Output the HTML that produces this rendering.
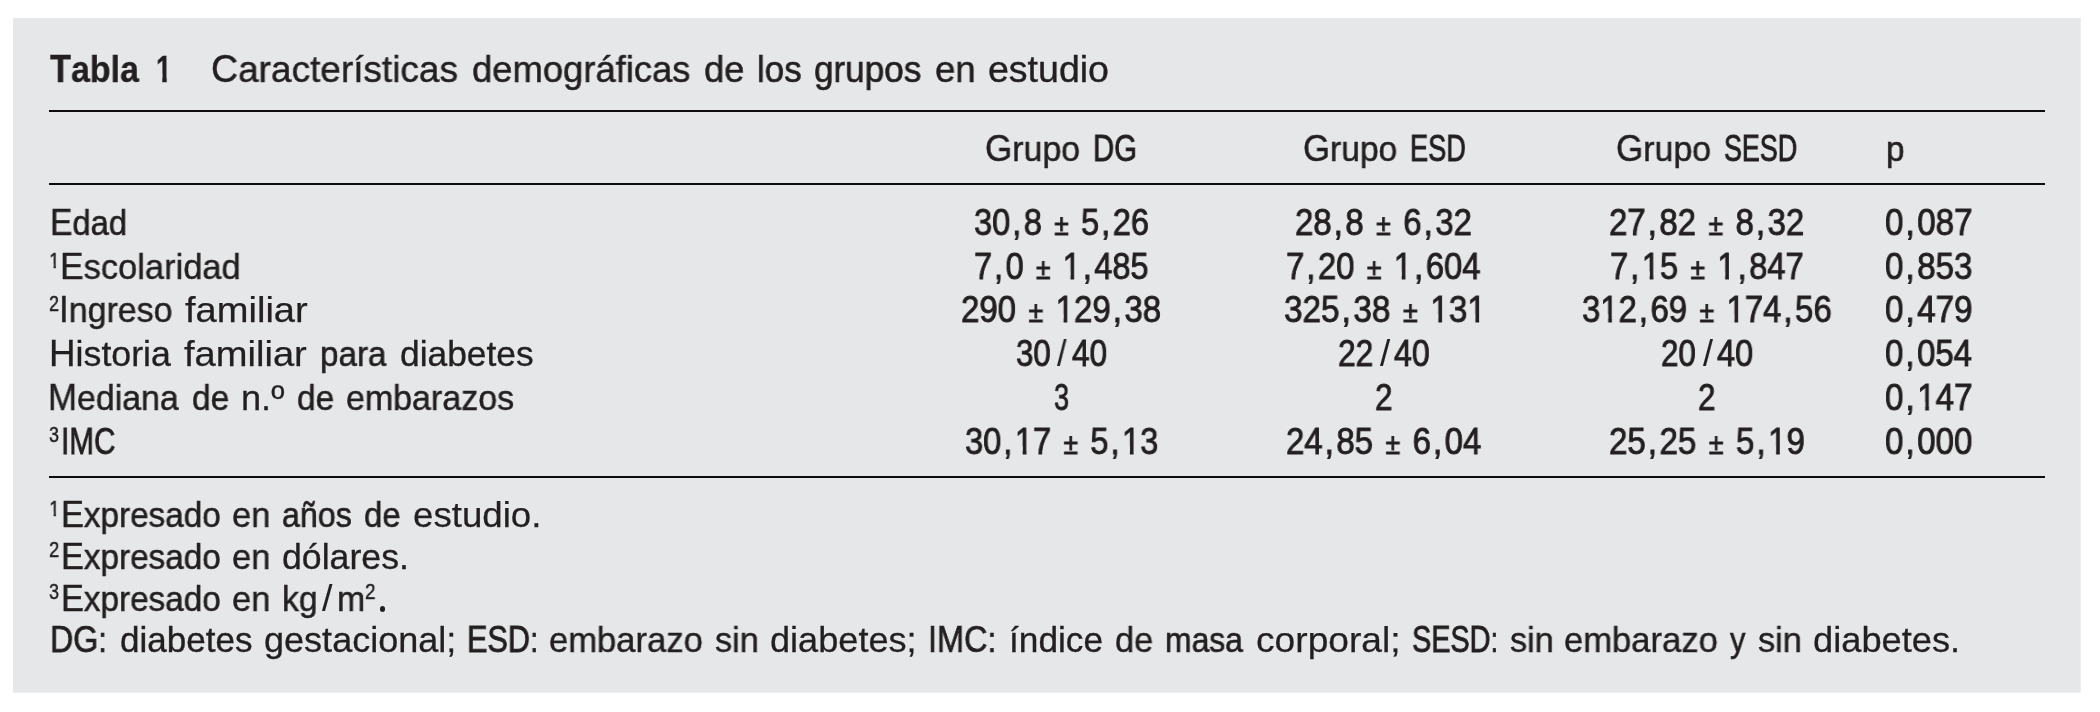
<!DOCTYPE html>
<html lang="es"><head><meta charset="utf-8"><title>Tabla 1</title><style>

html,body{margin:0;padding:0;background:#fff;}
body{width:2100px;height:712px;position:relative;overflow:hidden;font-family:"Liberation Sans",sans-serif;color:#231f20;}
.bx{position:absolute;left:0;top:0;}
.rule{position:absolute;left:49px;width:1996px;height:2px;background:#0e0c0d;}
.t{position:absolute;white-space:nowrap;will-change:transform;transform-origin:0 0;-webkit-text-stroke:0.6px #231f20;font-size:35px;line-height:36px;height:36px;}
.c,.n{font-size:36px;}
.pm{font-size:29px;}
.cm{margin:0 2.8px 0 2.2px;}
.n{word-spacing:3.6px;}
.b{font-weight:bold;-webkit-text-stroke-width:0.3px;}
.ti{font-size:37.5px;line-height:38px;height:38px;}
.ti .c{font-size:38px;}
.o{display:inline-block;clip-path:polygon(0 0,63.2% 0,63.2% 100%,43.2% 100%,43.2% 62%,0 62%);}
.b .o{clip-path:polygon(0 0,68.8% 0,68.8% 100%,40% 100%,40% 62%,0 62%);}
.sp{font-size:22px;line-height:22px;height:22px;-webkit-text-stroke-width:0.5px;}
.sl{-webkit-text-stroke-width:0.1px;}
.dot{position:absolute;border-radius:50%;background:#231f20;}

</style></head><body>
<svg class="bx" width="2100" height="712" viewBox="0 0 2100 712"><rect x="13" y="18" width="2067.7" height="674.7" fill="#e6e7e8"/></svg>
<div class="rule" style="top:110px"></div>
<div class="rule" style="top:183px"></div>
<div class="rule" style="top:476px"></div>
<div class="t b ti" style="left:49.74px;top:50px;transform:scaleX(0.9044);"><span class="c">T</span>abla</div>
<div class="t b ti" style="left:155.90px;top:50px;transform:scaleX(0.7468);"><span class="o">1</span></div>
<div class="t ti" style="left:211.12px;top:50px;transform:scaleX(0.9863);-webkit-text-stroke-width:0.45px;"><span class="c" style="-webkit-text-stroke-width:0.45px">C</span>aracterísticas</div>
<div class="t ti" style="left:471.75px;top:50px;transform:scaleX(0.9704);-webkit-text-stroke-width:0.50px;">demográficas</div>
<div class="t ti" style="left:703.75px;top:50px;transform:scaleX(0.9712);-webkit-text-stroke-width:0.50px;">de</div>
<div class="t ti" style="left:757.42px;top:50px;transform:scaleX(0.9308);-webkit-text-stroke-width:0.64px;">los</div>
<div class="t ti" style="left:814.30px;top:50px;transform:scaleX(0.9354);-webkit-text-stroke-width:0.63px;">grupos</div>
<div class="t ti" style="left:935.09px;top:50px;transform:scaleX(0.9766);-webkit-text-stroke-width:0.48px;">en</div>
<div class="t ti" style="left:987.93px;top:50px;transform:scaleX(0.9998);-webkit-text-stroke-width:0.40px;">estudio</div>
<div class="t" style="left:985.14px;top:131px;transform:scaleX(0.9699);-webkit-text-stroke-width:0.47px;"><span class="c" style="-webkit-text-stroke-width:0.47px">G</span>rupo</div>
<div class="t" style="left:1092.96px;top:131px;transform:scaleX(0.8133);-webkit-text-stroke-width:0.65px;"><span class="c" style="-webkit-text-stroke-width:0.85px">DG</span></div>
<div class="t" style="left:1302.75px;top:131px;transform:scaleX(0.9616);-webkit-text-stroke-width:0.50px;"><span class="c" style="-webkit-text-stroke-width:0.50px">G</span>rupo</div>
<div class="t" style="left:1409.84px;top:131px;transform:scaleX(0.7551);-webkit-text-stroke-width:0.65px;"><span class="c" style="-webkit-text-stroke-width:0.85px">ESD</span></div>
<div class="t" style="left:1616.14px;top:131px;transform:scaleX(0.9699);-webkit-text-stroke-width:0.47px;"><span class="c" style="-webkit-text-stroke-width:0.47px">G</span>rupo</div>
<div class="t" style="left:1723.76px;top:131px;transform:scaleX(0.7470);-webkit-text-stroke-width:0.65px;"><span class="c" style="-webkit-text-stroke-width:0.85px">SESD</span></div>
<div class="t" style="left:1886.11px;top:131px;transform:scaleX(0.9496);-webkit-text-stroke-width:0.54px;">p</div>
<div class="t" style="left:49.74px;top:205px;transform:scaleX(0.9335);-webkit-text-stroke-width:0.59px;"><span class="c" style="-webkit-text-stroke-width:0.60px">E</span>dad</div>
<div class="t sp" style="left:49.48px;top:250px;transform:scaleX(0.8847);"><span class="o">1</span></div>
<div class="t" style="left:60.44px;top:249px;transform:scaleX(0.9845);-webkit-text-stroke-width:0.42px;"><span class="c" style="-webkit-text-stroke-width:0.42px">E</span>scolaridad</div>
<div class="t sp" style="left:49.17px;top:293px;transform:scaleX(0.8142);">2</div>
<div class="t" style="left:58.68px;top:292px;transform:scaleX(0.9706);-webkit-text-stroke-width:0.47px;"><span class="c" style="-webkit-text-stroke-width:0.47px">I</span>ngreso</div>
<div class="t" style="left:185.21px;top:292px;transform:scaleX(1.0877);-webkit-text-stroke-width:0.25px;">familiar</div>
<div class="t" style="left:48.73px;top:336px;transform:scaleX(1.0215);-webkit-text-stroke-width:0.31px;"><span class="c" style="-webkit-text-stroke-width:0.31px">H</span>istoria</div>
<div class="t" style="left:184.21px;top:336px;transform:scaleX(1.0886);-webkit-text-stroke-width:0.25px;">familiar</div>
<div class="t" style="left:319.80px;top:336px;transform:scaleX(0.9491);-webkit-text-stroke-width:0.54px;">para</div>
<div class="t" style="left:400.24px;top:336px;transform:scaleX(1.0097);-webkit-text-stroke-width:0.35px;">diabetes</div>
<div class="t" style="left:47.92px;top:380px;transform:scaleX(0.9667);-webkit-text-stroke-width:0.48px;"><span class="c" style="-webkit-text-stroke-width:0.48px">M</span>ediana</div>
<div class="t" style="left:192.36px;top:380px;transform:scaleX(0.9553);-webkit-text-stroke-width:0.52px;">de</div>
<div class="t" style="left:240.83px;top:380px;transform:scaleX(1.0333);-webkit-text-stroke-width:0.28px;">n.º</div>
<div class="t" style="left:297.36px;top:380px;transform:scaleX(0.9553);-webkit-text-stroke-width:0.52px;">de</div>
<div class="t" style="left:346.30px;top:380px;transform:scaleX(0.9707);-webkit-text-stroke-width:0.47px;">embarazos</div>
<div class="t sp" style="left:48.95px;top:424px;transform:scaleX(0.8048);">3</div>
<div class="t" style="left:60.57px;top:424px;transform:scaleX(0.8242);-webkit-text-stroke-width:0.65px;"><span class="c" style="-webkit-text-stroke-width:0.85px">IMC</span></div>
<div class="t n" style="left:974.21px;top:205px;transform:scaleX(0.9053);-webkit-text-stroke-width:0.90px;">30<span class="cm">,</span>8 <span class="pm">±</span> 5<span class="cm">,</span>26</div>
<div class="t n" style="left:973.64px;top:249px;transform:scaleX(0.9030);-webkit-text-stroke-width:0.90px;">7<span class="cm">,</span>0 <span class="pm">±</span> <span class="o">1</span><span class="cm">,</span>485</div>
<div class="t n" style="left:961.17px;top:292px;transform:scaleX(0.9168);-webkit-text-stroke-width:0.90px;">290 <span class="pm">±</span> <span class="o">1</span>29<span class="cm">,</span>38</div>
<div class="t n" style="left:1053.58px;top:380px;transform:scaleX(0.7503);-webkit-text-stroke-width:0.90px;">3</div>
<div class="t n" style="left:965.01px;top:424px;transform:scaleX(0.9064);-webkit-text-stroke-width:0.90px;">30<span class="cm">,</span><span class="o">1</span>7 <span class="pm">±</span> 5<span class="cm">,</span><span class="o">1</span>3</div>
<div class="t n" style="left:1294.74px;top:205px;transform:scaleX(0.9152);-webkit-text-stroke-width:0.90px;">28<span class="cm">,</span>8 <span class="pm">±</span> 6<span class="cm">,</span>32</div>
<div class="t n" style="left:1286.28px;top:249px;transform:scaleX(0.9121);-webkit-text-stroke-width:0.90px;">7<span class="cm">,</span>20 <span class="pm">±</span> <span class="o">1</span><span class="cm">,</span>604</div>
<div class="t n" style="left:1284.38px;top:292px;transform:scaleX(0.9248);-webkit-text-stroke-width:0.90px;">325<span class="cm">,</span>38 <span class="pm">±</span> <span class="o">1</span>3<span class="o">1</span></div>
<div class="t n" style="left:1374.70px;top:380px;transform:scaleX(0.8718);-webkit-text-stroke-width:0.90px;">2</div>
<div class="t n" style="left:1285.74px;top:424px;transform:scaleX(0.9158);-webkit-text-stroke-width:0.90px;">24<span class="cm">,</span>85 <span class="pm">±</span> 6<span class="cm">,</span>04</div>
<div class="t n" style="left:1608.50px;top:205px;transform:scaleX(0.9153);-webkit-text-stroke-width:0.90px;">27<span class="cm">,</span>82 <span class="pm">±</span> 8<span class="cm">,</span>32</div>
<div class="t n" style="left:1610.23px;top:249px;transform:scaleX(0.9081);-webkit-text-stroke-width:0.90px;">7<span class="cm">,</span><span class="o">1</span>5 <span class="pm">±</span> <span class="o">1</span><span class="cm">,</span>847</div>
<div class="t n" style="left:1582.15px;top:292px;transform:scaleX(0.9133);-webkit-text-stroke-width:0.90px;">3<span class="o">1</span>2<span class="cm">,</span>69 <span class="pm">±</span> <span class="o">1</span>74<span class="cm">,</span>56</div>
<div class="t n" style="left:1698.10px;top:380px;transform:scaleX(0.8718);-webkit-text-stroke-width:0.90px;">2</div>
<div class="t n" style="left:1608.79px;top:424px;transform:scaleX(0.9185);-webkit-text-stroke-width:0.90px;">25<span class="cm">,</span>25 <span class="pm">±</span> 5<span class="cm">,</span><span class="o">1</span>9</div>
<div class="t n" style="left:1016.12px;top:336px;transform:scaleX(0.8664);-webkit-text-stroke-width:0.90px;">30</div>
<div class="t sl n" style="left:1056.90px;top:336px;transform:scaleX(0.9500);">/</div>
<div class="t n" style="left:1071.86px;top:336px;transform:scaleX(0.8773);-webkit-text-stroke-width:0.90px;">40</div>
<div class="t n" style="left:1337.66px;top:336px;transform:scaleX(0.8807);-webkit-text-stroke-width:0.90px;">22</div>
<div class="t sl n" style="left:1380.17px;top:336px;transform:scaleX(1.0149);">/</div>
<div class="t n" style="left:1394.26px;top:336px;transform:scaleX(0.8929);-webkit-text-stroke-width:0.90px;">40</div>
<div class="t n" style="left:1660.90px;top:336px;transform:scaleX(0.8689);-webkit-text-stroke-width:0.90px;">20</div>
<div class="t sl n" style="left:1703.25px;top:336px;transform:scaleX(0.9909);">/</div>
<div class="t n" style="left:1716.86px;top:336px;transform:scaleX(0.9033);-webkit-text-stroke-width:0.90px;">40</div>
<div class="t n" style="left:1885.20px;top:205px;transform:scaleX(0.9209);-webkit-text-stroke-width:0.90px;">0<span class="cm">,</span>087</div>
<div class="t n" style="left:1885.13px;top:249px;transform:scaleX(0.9197);-webkit-text-stroke-width:0.90px;">0<span class="cm">,</span>853</div>
<div class="t n" style="left:1885.20px;top:292px;transform:scaleX(0.9203);-webkit-text-stroke-width:0.90px;">0<span class="cm">,</span>479</div>
<div class="t n" style="left:1885.37px;top:336px;transform:scaleX(0.9151);-webkit-text-stroke-width:0.90px;">0<span class="cm">,</span>054</div>
<div class="t n" style="left:1885.20px;top:380px;transform:scaleX(0.9209);-webkit-text-stroke-width:0.90px;">0<span class="cm">,</span><span class="o">1</span>47</div>
<div class="t n" style="left:1885.13px;top:424px;transform:scaleX(0.9195);-webkit-text-stroke-width:0.90px;">0<span class="cm">,</span>000</div>
<div class="t sp" style="left:49.05px;top:498px;transform:scaleX(0.8947);"><span class="o">1</span></div>
<div class="t" style="left:61.14px;top:497px;transform:scaleX(0.9512);-webkit-text-stroke-width:0.53px;"><span class="c" style="-webkit-text-stroke-width:0.54px">E</span>xpresado</div>
<div class="t" style="left:231.77px;top:497px;transform:scaleX(0.9865);-webkit-text-stroke-width:0.42px;">en</div>
<div class="t" style="left:281.85px;top:497px;transform:scaleX(0.9188);-webkit-text-stroke-width:0.64px;">años</div>
<div class="t" style="left:363.78px;top:497px;transform:scaleX(0.9398);-webkit-text-stroke-width:0.57px;">de</div>
<div class="t" style="left:413.27px;top:497px;transform:scaleX(1.0474);-webkit-text-stroke-width:0.25px;">estudio.</div>
<div class="t sp" style="left:48.98px;top:539px;transform:scaleX(0.8365);">2</div>
<div class="t" style="left:61.14px;top:539px;transform:scaleX(0.9512);-webkit-text-stroke-width:0.53px;"><span class="c" style="-webkit-text-stroke-width:0.54px">E</span>xpresado</div>
<div class="t" style="left:231.77px;top:539px;transform:scaleX(0.9865);-webkit-text-stroke-width:0.42px;">en</div>
<div class="t" style="left:281.78px;top:539px;transform:scaleX(1.0193);-webkit-text-stroke-width:0.32px;">dólares.</div>
<div class="t sp" style="left:48.97px;top:581px;transform:scaleX(0.8136);">3</div>
<div class="t" style="left:61.14px;top:581px;transform:scaleX(0.9512);-webkit-text-stroke-width:0.53px;"><span class="c" style="-webkit-text-stroke-width:0.54px">E</span>xpresado</div>
<div class="t" style="left:231.77px;top:581px;transform:scaleX(0.9865);-webkit-text-stroke-width:0.42px;">en</div>
<div class="t" style="left:282.48px;top:581px;transform:scaleX(0.9639);-webkit-text-stroke-width:0.49px;">kg</div>
<div class="t sl n" style="left:321.81px;top:581px;transform:scaleX(1.0434);">/</div>
<div class="t" style="left:337.27px;top:581px;transform:scaleX(0.9673);-webkit-text-stroke-width:0.48px;">m</div>
<div class="t sp" style="left:365.34px;top:581px;transform:scaleX(0.8560);">2</div>
<div class="t" style="left:49.80px;top:622px;transform:scaleX(0.8923);-webkit-text-stroke-width:0.65px;"><span class="c" style="-webkit-text-stroke-width:0.75px">DG</span>:</div>
<div class="t" style="left:119.78px;top:622px;transform:scaleX(1.0009);-webkit-text-stroke-width:0.37px;">diabetes</div>
<div class="t" style="left:264.29px;top:622px;transform:scaleX(1.0299);-webkit-text-stroke-width:0.29px;">gestacional;</div>
<div class="t" style="left:466.94px;top:622px;transform:scaleX(0.8509);-webkit-text-stroke-width:0.65px;"><span class="c" style="-webkit-text-stroke-width:0.85px">ESD</span>:</div>
<div class="t" style="left:548.96px;top:622px;transform:scaleX(0.9882);-webkit-text-stroke-width:0.41px;">embarazo</div>
<div class="t" style="left:715.27px;top:622px;transform:scaleX(0.9801);-webkit-text-stroke-width:0.44px;">sin</div>
<div class="t" style="left:769.78px;top:622px;transform:scaleX(1.0321);-webkit-text-stroke-width:0.28px;">diabetes;</div>
<div class="t" style="left:928.11px;top:622px;transform:scaleX(0.9012);-webkit-text-stroke-width:0.65px;"><span class="c" style="-webkit-text-stroke-width:0.72px">IMC</span>:</div>
<div class="t" style="left:1008.87px;top:622px;transform:scaleX(1.0070);-webkit-text-stroke-width:0.35px;">índice</div>
<div class="t" style="left:1114.78px;top:622px;transform:scaleX(0.9807);-webkit-text-stroke-width:0.43px;">de</div>
<div class="t" style="left:1165.02px;top:622px;transform:scaleX(0.9121);-webkit-text-stroke-width:0.65px;">masa</div>
<div class="t" style="left:1256.02px;top:622px;transform:scaleX(1.0620);-webkit-text-stroke-width:0.25px;">corporal;</div>
<div class="t" style="left:1411.56px;top:622px;transform:scaleX(0.8004);-webkit-text-stroke-width:0.65px;"><span class="c" style="-webkit-text-stroke-width:0.85px">SESD</span>:</div>
<div class="t" style="left:1510.42px;top:622px;transform:scaleX(0.9786);-webkit-text-stroke-width:0.44px;">sin</div>
<div class="t" style="left:1563.96px;top:622px;transform:scaleX(0.9882);-webkit-text-stroke-width:0.41px;">embarazo</div>
<div class="t" style="left:1729.90px;top:622px;transform:scaleX(0.8807);-webkit-text-stroke-width:0.65px;">y</div>
<div class="t" style="left:1758.43px;top:622px;transform:scaleX(0.9806);-webkit-text-stroke-width:0.44px;">sin</div>
<div class="t" style="left:1813.28px;top:622px;transform:scaleX(1.0361);-webkit-text-stroke-width:0.27px;">diabetes.</div>
<div class="dot" style="left:379.9px;top:605.9px;width:5.5px;height:6.0px"></div>
</body></html>
